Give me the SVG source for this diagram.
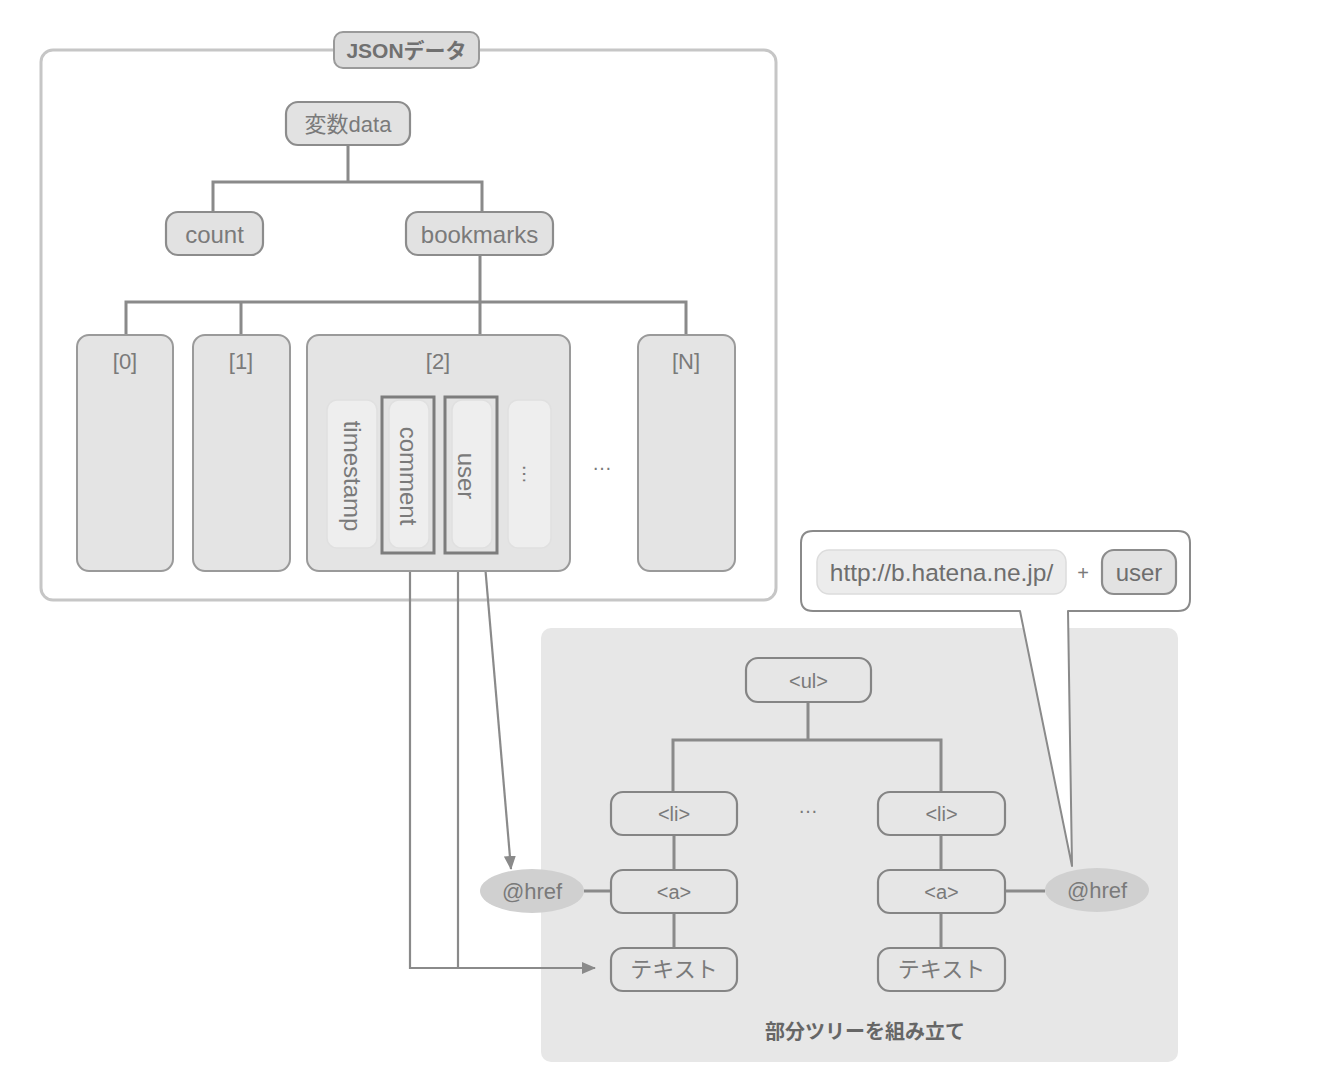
<svg xmlns="http://www.w3.org/2000/svg" width="1320" height="1076" viewBox="0 0 1320 1076">
<defs>
<style>
text{font-family:"Liberation Sans","Noto Sans CJK JP",sans-serif;fill:#7a7a7a;text-anchor:middle;dominant-baseline:central}
.node{fill:#e2e2e2;stroke:#8c8c8c;stroke-width:2.2}
.tnode{fill:#e6e6e6;stroke:#858585;stroke-width:2.2}
.col{fill:#e4e4e4;stroke:#9a9a9a;stroke-width:2}
.inner{fill:#eeeeee;stroke:#e0e0e0;stroke-width:1.5}
.hl{fill:none;stroke:#7d7d7d;stroke-width:3}
.conn{fill:none;stroke:#8a8a8a;stroke-width:3}
.thin{fill:none;stroke:#8a8a8a;stroke-width:2.2}
.t24{font-size:24px}
.t22{font-size:22px}
.t20{font-size:20px}
</style>
<marker id="arr" viewBox="0 0 14 12" refX="13" refY="6" markerWidth="14" markerHeight="12" orient="auto" markerUnits="userSpaceOnUse">
<path d="M0,0 L14,6 L0,12 z" fill="#8a8a8a"/>
</marker>
</defs>
<rect width="1320" height="1076" fill="#ffffff"/>

<g id="subtree-panel">
<rect x="541" y="628" width="637" height="434" rx="10" fill="#e7e7e7"/>
<text x="865" y="1032" font-size="20" font-weight="bold" style="fill:#666">部分ツリーを組み立て</text>
</g>

<g id="json-box">
<rect x="41" y="50" width="735" height="550" rx="12" fill="#ffffff" stroke="#c6c6c6" stroke-width="3"/>
<rect x="334" y="32" width="145" height="36" rx="9" fill="#dcdcdc" stroke="#9a9a9a" stroke-width="2"/>
<text x="406.5" y="50" font-size="21" font-weight="bold" style="fill:#707070">JSONデータ</text>
</g>

<g id="connectors">
<path class="conn" d="M348,145 V182 M213,182 H482 M213,180.5 V212 M482,180.5 V212"/>
<path class="conn" d="M480,255 V302 M126,302 H686 M126,300.5 V335 M241,300.5 V335 M480,300.5 V335 M686,300.5 V335"/>
<path class="conn" d="M808,702 V740 M673,740 H941 M673,738.5 V792 M941,738.5 V792"/>
<path class="conn" d="M674,835 V870 M674,913 V948 M941,835 V870 M941,913 V948"/>
<path class="conn" d="M584,891 H611 M1005,891 H1045"/>
<path class="thin" d="M410,553 V968 H595" marker-end="url(#arr)"/>
<path class="thin" d="M458,553 V968"/>
<path class="thin" d="M484,553 L511,869" marker-end="url(#arr)"/>
</g>

<g id="var-data"><rect class="node" x="286" y="102" width="124" height="43" rx="12"/><text class="t22" x="348" y="124">変数data</text></g>
<g id="count"><rect class="node" x="166" y="212" width="97" height="43" rx="12"/><text class="t24" x="214.5" y="234">count</text></g>
<g id="bookmarks"><rect class="node" x="406" y="212" width="147" height="43" rx="12"/><text class="t24" x="479.5" y="234">bookmarks</text></g>

<g id="item0"><rect class="col" x="77" y="335" width="96" height="236" rx="12"/><text class="t22" x="125" y="361">[0]</text></g>
<g id="item1"><rect class="col" x="193" y="335" width="97" height="236" rx="12"/><text class="t22" x="241" y="361">[1]</text></g>
<g id="item2"><rect class="col" x="307" y="335" width="263" height="236" rx="12"/><text class="t22" x="438" y="361">[2]</text>
<rect class="inner" x="327" y="400" width="50" height="148" rx="10"/>
<text class="t24" transform="translate(352,476) rotate(90)">timestamp</text>
<rect class="inner" x="389" y="400" width="40" height="148" rx="10"/>
<rect class="hl" x="382" y="397" width="52" height="156"/>
<text class="t24" transform="translate(408,476) rotate(90)">comment</text>
<rect class="inner" x="452" y="400" width="40" height="148" rx="10"/>
<rect class="hl" x="445" y="397" width="52" height="156"/>
<text class="t24" transform="translate(466,476) rotate(90)">user</text>
<rect class="inner" x="508" y="400" width="43" height="148" rx="10"/>
<text class="t20" transform="translate(530,474) rotate(90)">…</text>
</g>
<g id="ellipsis-items"><text class="t20" x="602" y="463">…</text></g>
<g id="itemN"><rect class="col" x="638" y="335" width="97" height="236" rx="12"/><text class="t22" x="686" y="361">[N]</text></g>

<g id="callout">
<path d="M813,531 H1178 Q1190,531 1190,543 V599 Q1190,611 1178,611 H1068 L1072,866 L1020,611 H813 Q801,611 801,599 V543 Q801,531 813,531 Z" fill="#ffffff" stroke="#8a8a8a" stroke-width="2" stroke-linejoin="round"/>
<rect x="817" y="550" width="249" height="44" rx="12" fill="#ececec" stroke="#dcdcdc" stroke-width="1.5"/>
<text x="941.5" y="572" font-size="24.5" style="fill:#6e6e6e">http://b.hatena.ne.jp/</text>
<text class="t20" x="1083" y="573">+</text>
<rect class="node" x="1102" y="550" width="74" height="44" rx="12"/>
<text class="t24" x="1139" y="572" style="fill:#6e6e6e">user</text>
</g>

<g id="ul"><rect class="tnode" x="746" y="658" width="125" height="44" rx="12"/><text class="t20" x="808.5" y="681">&lt;ul&gt;</text></g>
<g id="li-left"><rect class="tnode" x="611" y="792" width="126" height="43" rx="12"/><text class="t20" x="674" y="814">&lt;li&gt;</text></g>
<g id="li-dots"><text class="t20" x="808" y="806">…</text></g>
<g id="li-right"><rect class="tnode" x="878" y="792" width="127" height="43" rx="12"/><text class="t20" x="941.5" y="814">&lt;li&gt;</text></g>
<g id="a-left"><rect class="tnode" x="611" y="870" width="126" height="43" rx="12"/><text class="t20" x="674" y="892">&lt;a&gt;</text></g>
<g id="a-right"><rect class="tnode" x="878" y="870" width="127" height="43" rx="12"/><text class="t20" x="941.5" y="892">&lt;a&gt;</text></g>
<g id="text-left"><rect class="tnode" x="611" y="948" width="126" height="43" rx="12"/><text class="t22" x="674" y="969">テキスト</text></g>
<g id="text-right"><rect class="tnode" x="878" y="948" width="127" height="43" rx="12"/><text class="t22" x="941.5" y="969">テキスト</text></g>
<g id="href-left"><ellipse cx="532" cy="891" rx="52" ry="22" fill="#d0d0d0"/><text class="t22" x="532" y="891">@href</text></g>
<g id="href-right"><ellipse cx="1097" cy="890" rx="52" ry="22" fill="#d0d0d0"/><text class="t22" x="1097" y="890">@href</text></g>
</svg>
